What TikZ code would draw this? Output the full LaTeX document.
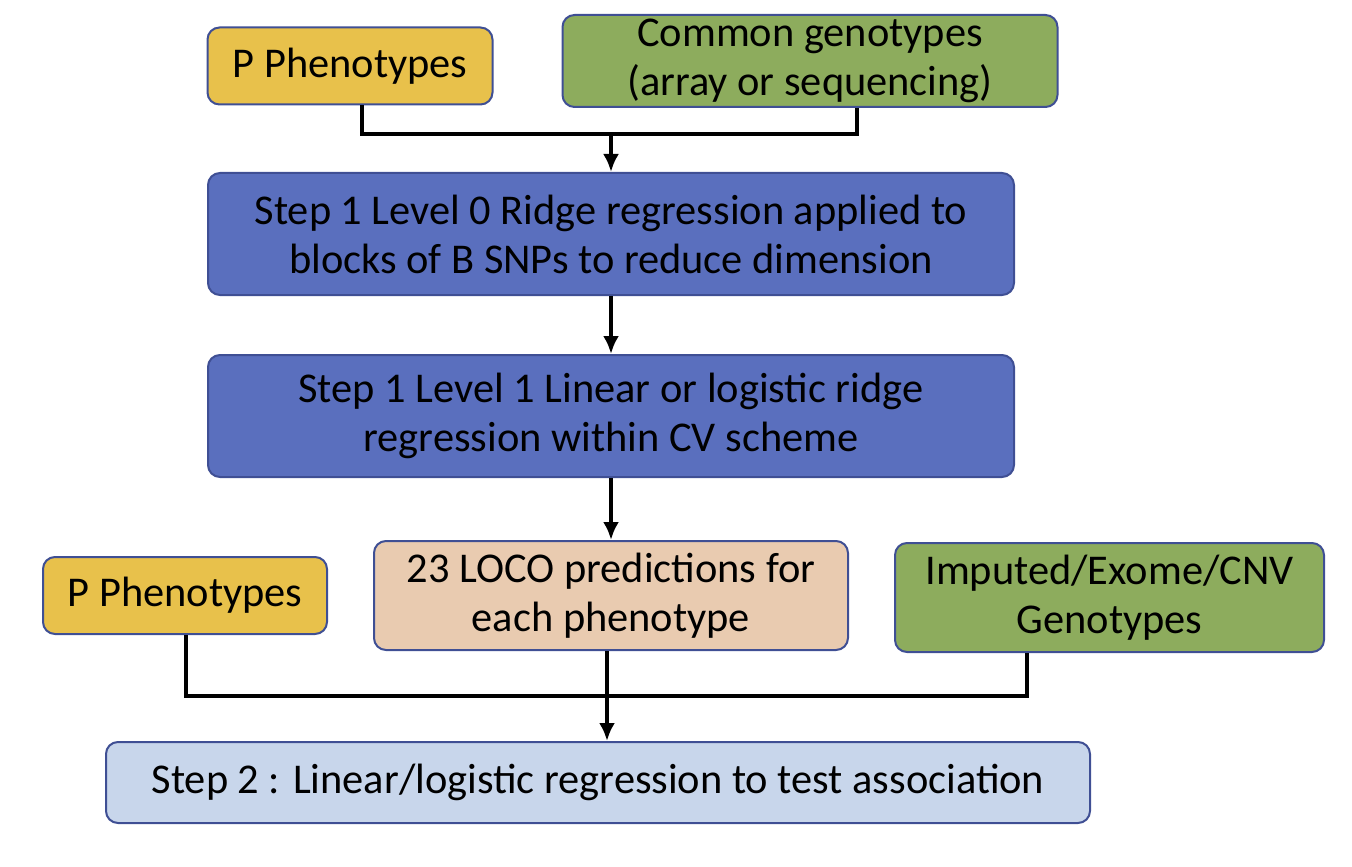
\documentclass[tikz,border=0pt]{standalone}
\usepackage{fontspec}
\setmainfont{Carlito}
\usetikzlibrary{arrows.meta}
\definecolor{phenoyellow}{HTML}{E8C14B}
\definecolor{genogreen}{HTML}{8DAC5D}
\definecolor{stepblue}{HTML}{5A6FBE}
\definecolor{locopeach}{HTML}{E9CBB0}
\definecolor{testblue}{HTML}{C8D6EB}
\definecolor{edgeblue}{HTML}{3F4F94}
\tikzset{
  box/.style={draw=edgeblue,line width=1pt,rounded corners=6pt,align=center,
    inner sep=0pt,font=\fontsize{21.2}{24.5}\selectfont},
  conn/.style={line width=2pt,black},
  arr/.style={line width=2pt,black,-{Latex[length=9pt,width=8pt]}}
}
\begin{document}
\begin{tikzpicture}[x=0.5pt,y=-0.5pt]
    \useasboundingbox (0,0) rectangle (1352,866);
    \node[box,fill=phenoyellow,minimum width=142.5pt,minimum height=38.5pt] (phenoA) at (350,66) {P Phenotypes};
    \node[box,fill=genogreen,minimum width=247.5pt,minimum height=46pt] (common) at (810,61) {Common genotypes\\(array or sequencing)};
    \node[box,fill=stepblue,minimum width=403pt,minimum height=61pt] (levelzero) at (611,234) {Step 1 Level 0 Ridge regression applied to\\blocks of B SNPs to reduce dimension};
    \node[box,fill=stepblue,minimum width=403pt,minimum height=61pt] (levelone) at (611,416) {Step 1 Level 1 Linear or logistic ridge\\regression within CV scheme};
    \node[box,fill=locopeach,minimum width=237pt,minimum height=54.5pt] (loco) at (611,595.5) {23 LOCO predictions for\\each phenotype};
    \node[box,fill=phenoyellow,minimum width=142pt,minimum height=38.5pt] (phenoB) at (185,595.5) {P Phenotypes};
    \node[box,fill=genogreen,minimum width=214.5pt,minimum height=54.5pt] (imputed) at (1109.5,597.5) {Imputed/Exome/CNV\\Genotypes};
    \node[box,fill=testblue,minimum width=492pt,minimum height=40.5pt] (steptwo) at (598,782.5) {Step 2 : Linear/logistic regression to test association};

    \coordinate (topjoin) at (611,134);
    \coordinate (lowjoin) at (607,696);
    \draw[conn] ([xshift=6pt]phenoA.south) |- (topjoin) -| ([xshift=23.5pt]common.south);
    \draw[arr] (topjoin) -- (topjoin |- levelzero.north);
    \draw[arr] (levelzero) -- (levelone);
    \draw[arr] (levelone) -- (loco);
    \draw[conn] ([xshift=0.5pt]phenoB.south) |- (lowjoin) -| ([xshift=-41.5pt]imputed.south);
    \draw[arr] (lowjoin |- loco.south) -- (lowjoin |- steptwo.north);
\end{tikzpicture}
\end{document}
